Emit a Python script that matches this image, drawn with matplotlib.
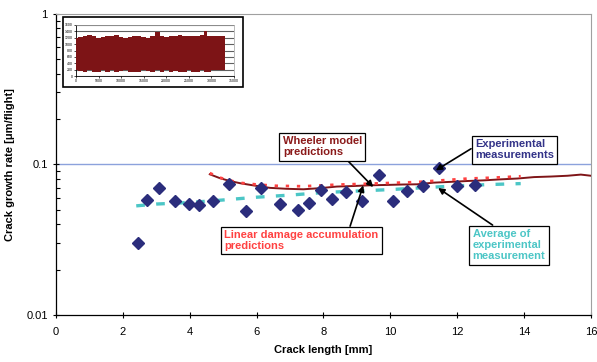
import matplotlib
matplotlib.use("Agg")
import matplotlib.pyplot as plt
from matplotlib.patches import Rectangle
from matplotlib.ticker import LogLocator, NullFormatter, FixedLocator, FixedFormatter

plt.rcParams['font.family'] = ['Liberation Sans', 'DejaVu Sans']

# ---- data ----
exp_x = [2.46, 2.72, 3.08, 3.56, 3.98, 4.29, 4.69, 5.18, 5.68, 6.14, 6.70, 7.24,
         7.57, 7.92, 8.27, 8.67, 9.14, 9.65, 10.07, 10.49, 10.98, 11.46, 11.98, 12.52]
exp_y = [0.030, 0.0583, 0.0697, 0.0571, 0.0548, 0.0534, 0.0571, 0.0744, 0.0488, 0.0693,
         0.0548, 0.0500, 0.0557, 0.0672, 0.0592, 0.0655, 0.0568, 0.0855, 0.0568, 0.0669,
         0.0718, 0.0950, 0.0715, 0.0729]

avg_x = [2.4, 3.0, 4.0, 5.0, 6.0, 7.0, 8.0, 9.0, 10.0, 11.0, 12.0, 13.0, 13.9]
avg_y = [0.053, 0.0545, 0.0558, 0.058, 0.0605, 0.0625, 0.065, 0.0665, 0.068, 0.070,
         0.072, 0.0735, 0.0745]

wheeler_x = [4.6, 4.9, 5.2, 5.5, 5.9, 6.4, 6.9, 7.4, 7.9, 8.4, 8.9, 9.4, 9.9, 10.4,
             10.8, 11.3, 11.8, 12.3, 12.8, 13.3, 13.8, 14.3, 14.8, 15.3, 15.7, 16.0]
wheeler_y = [0.0859, 0.081, 0.0775, 0.075, 0.0725, 0.0698, 0.0688, 0.0683, 0.0695,
             0.0712, 0.0718, 0.0726, 0.073, 0.0735, 0.0737, 0.0756, 0.0765, 0.0775,
             0.0783, 0.0795, 0.0805, 0.0823, 0.083, 0.0840, 0.0855, 0.0840]

linear_x = [4.6, 4.9, 5.45, 6.05, 6.6, 7.4, 8.4, 9.4, 10.8, 12.3, 13.1, 13.9]
linear_y = [0.0875, 0.0816, 0.0756, 0.0733, 0.072, 0.0715, 0.0733, 0.0744, 0.0763,
            0.0804, 0.0816, 0.0833]

# inset: load spectrum envelope (flights vs load)
ins_x = [0, 1000, 2000, 3000, 4000, 5000, 6000, 7000, 8000, 9000, 10000, 11000, 12000,
         13000, 14000, 15000, 16000, 17000, 18000, 19000, 20000, 21000, 22000, 23000,
         24000, 25000, 26000, 27000, 28000, 28700, 29500, 30500, 31500, 32500, 33000]
ins_hi = [1200, 1230, 1260, 1290, 1240, 1200, 1210, 1250, 1270, 1300, 1210, 1200, 1220,
          1250, 1270, 1220, 1200, 1260, 1390, 1240, 1230, 1260, 1250, 1290, 1270, 1250,
          1270, 1260, 1280, 1400, 1260, 1270, 1250, 1260, 1240]
ins_lo = [200, 150, 120, 200, 130, 120, 200, 130, 200, 120, 150, 200, 120, 130, 120,
          200, 150, 120, 200, 130, 200, 120, 150, 130, 120, 200, 130, 120, 200, 130,
          120, 200, 200, 200, 200]

# ---- figure ----
fig = plt.figure(figsize=(5.97, 3.62), dpi=100)
ax = fig.add_axes([0.0938, 0.130, 0.896, 0.832])

navy = '#2B2D7C'
dred = '#7F1518'
red = '#FF4242'
cyan = '#4CC6C6'

ax.axhline(0.1, color='#8CA2DC', lw=1.0, zorder=1)
ax.plot(avg_x, avg_y, color=cyan, lw=2.4, ls=(0, (2.6, 3.4)), zorder=2)
ax.plot(wheeler_x, wheeler_y, color=dred, lw=1.4, zorder=3)
ax.plot(linear_x, linear_y, color=red, lw=2.0, ls=(0, (1.2, 2.8)), zorder=3)
ax.plot(exp_x, exp_y, ls='none', marker='D', ms=5.8, color=navy, mec=navy, zorder=4)

ax.set_yscale('log')
ax.set_xlim(0, 16)
ax.set_ylim(0.01, 1)
ax.xaxis.set_major_locator(FixedLocator([0, 2, 4, 6, 8, 10, 12, 14, 16]))
ax.yaxis.set_major_locator(FixedLocator([0.01, 0.1, 1]))
ax.yaxis.set_major_formatter(FixedFormatter(['0.01', '0.1', '1']))
ax.yaxis.set_minor_locator(LogLocator(base=10, subs=range(2, 10)))
ax.yaxis.set_minor_formatter(NullFormatter())
ax.tick_params(axis='both', which='major', direction='inout', length=5, width=0.8,
               labelsize=8, colors='black')
ax.tick_params(axis='y', which='minor', direction='in', length=3, width=0.8)
ax.tick_params(axis='x', pad=6)
for s in ['top', 'right']:
    ax.spines[s].set_color('#A0A0A0')
    ax.spines[s].set_linewidth(0.8)
for s in ['left', 'bottom']:
    ax.spines[s].set_color('black')
    ax.spines[s].set_linewidth(0.9)

ax.set_xlabel('Crack length [mm]', fontsize=8, fontweight='bold', labelpad=6)
ax.set_ylabel('Crack growth rate [\u03bcm/flight]', fontsize=8, fontweight='bold', labelpad=8)

bbox = dict(boxstyle='square,pad=0.3', fc='white', ec='black', lw=0.9)
arrow = dict(arrowstyle='-|>', color='black', lw=1.2, shrinkA=0, shrinkB=0,
             mutation_scale=9)

def note(text, color, xy, xytext, relpos):
    ap = dict(arrow)
    ap['relpos'] = relpos
    ax.annotate(text, xy=xy, xycoords='data', xytext=xytext, textcoords='axes fraction',
                ha='left', va='center', fontsize=8, fontweight='bold', color=color,
                linespacing=1.15, bbox=bbox, arrowprops=ap, zorder=6)

note('Wheeler model\npredictions', '#8B1A1A', (9.49, 0.0707), (0.424, 0.558), (0.78, 0.0))
note('Linear damage accumulation\npredictions', red, (9.19, 0.0725), (0.314, 0.247), (0.81, 1.0))
note('Experimental\nmeasurements', '#333388', (11.36, 0.0912), (0.783, 0.549), (0.0, 0.65))
note('Average of\nexperimental\nmeasurement', cyan, (11.43, 0.0696), (0.779, 0.232), (0.35, 1.0))

# ---- inset ----
W, H = 597.0, 362.0
fig.patches.append(Rectangle((62.7 / W, 1 - 87.3 / H), 180 / W, 70 / H,
                             transform=fig.transFigure, fc='white', ec='black', lw=1.2,
                             zorder=5))
iax = fig.add_axes([76 / W, 1 - 76 / H, 158 / W, 51 / H], zorder=6)
iax.fill_between(ins_x, ins_lo, ins_hi, step='mid', color='#7D1416', lw=0, zorder=3)
iax.set_xlim(0, 35000)
iax.set_ylim(0, 1600)
iax.set_xticks(range(0, 35001, 5000))
iax.set_yticks(range(0, 1601, 200))
iax.tick_params(labelsize=2.5, length=1.5, width=0.5, pad=1)
iax.grid(axis='y', color='#606060', lw=0.8, zorder=1)
iax.set_axisbelow(True)
for s in ['top', 'right']:
    iax.spines[s].set_color('#A0A0A0')
    iax.spines[s].set_linewidth(0.5)
for s in ['left', 'bottom']:
    iax.spines[s].set_linewidth(0.6)

fig.savefig('out.png', dpi=100)
